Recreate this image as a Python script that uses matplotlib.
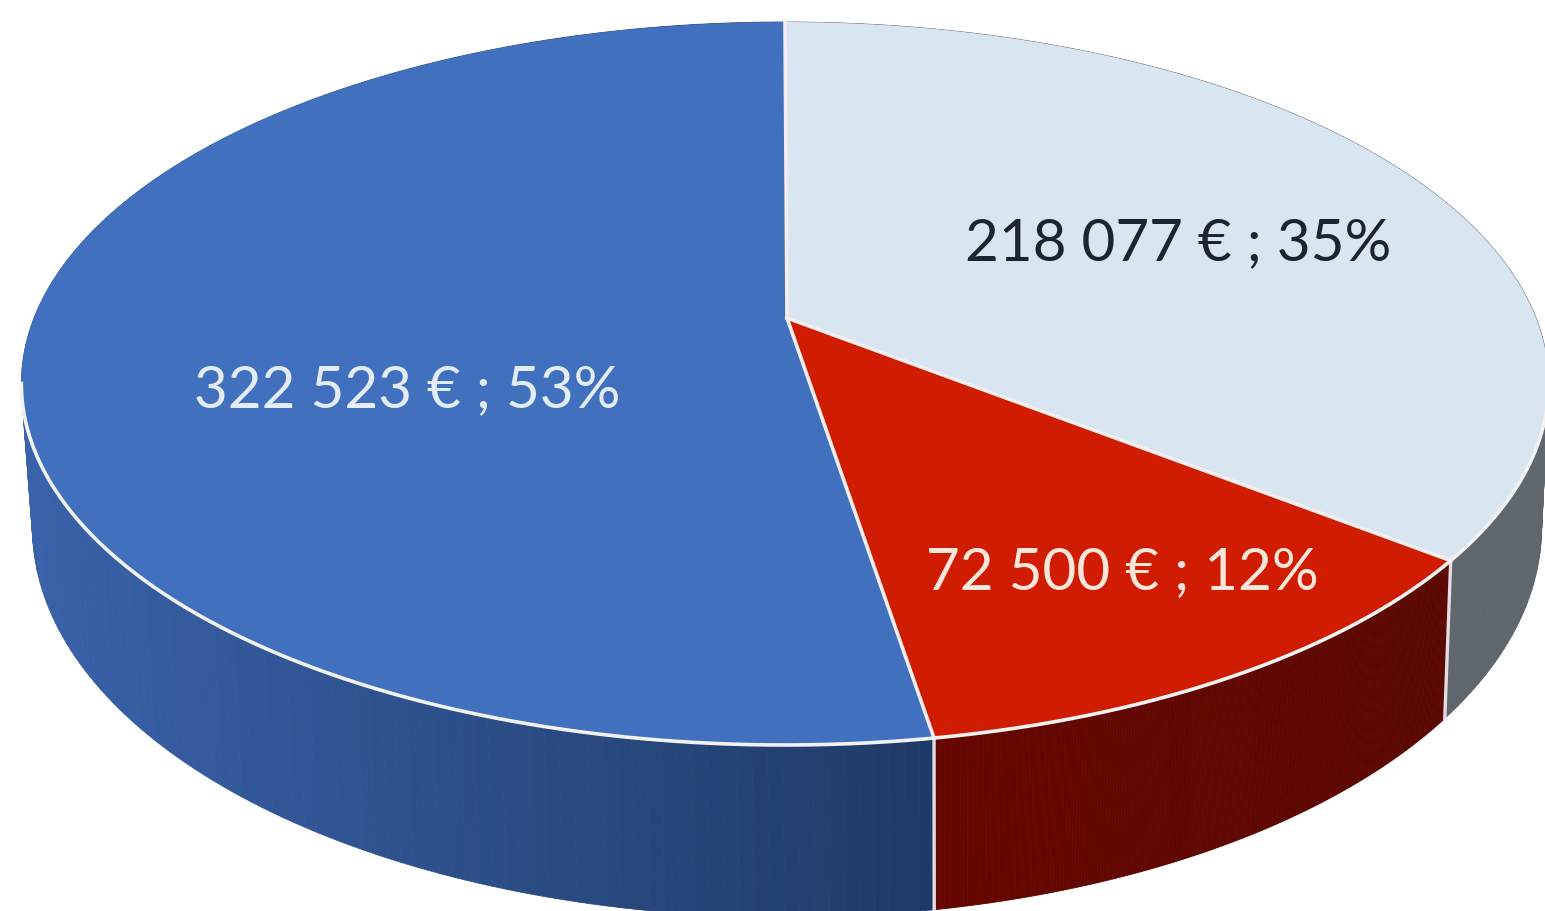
import matplotlib
matplotlib.use("Agg")
import matplotlib.pyplot as plt
import numpy as np

values = [218077, 72500, 322523]
labels = ["218 077 € ; 35%", "72 500 € ; 12%", "322 523 € ; 53%"]
top_colors = ["#dae5f2", "#d01c00", "#4170bf"]
# wall colours, (left of the slice, right of the slice)
wall_colors = [("#60676d", "#5f666c"), ("#660500", "#5a0800"), ("#3a62aa", "#1f3a66")]
text_colors = ["#1c2430", "#fbe6dc", "#e3ecf8"]
label_pos = [(1178, 244), (1122, 573), (407, 391)]

# perspective of the disc, all in image pixels
k = 0.1812


def rim(theta, cx, c, a, b):
    w = 1 + k * np.cos(theta)
    return cx + c * np.sin(theta) / w, (a * np.cos(theta) + b) / w


def top(theta):
    return rim(theta, 785, 751, -292, 318)


def bottom(theta):
    return rim(theta, 787, 742, -294, 457)


def hex_rgb(h):
    return np.array(matplotlib.colors.to_rgb(h))


fig = plt.figure(figsize=(15.45, 9.11), dpi=100)
ax = fig.add_axes([0, 0, 1, 1])
ax.set_xlim(0, 1545)
ax.set_ylim(911, 0)
ax.axis("off")

edges = np.concatenate([[0], np.cumsum(values)]) / sum(values) * 2 * np.pi

# side walls first, the top covers whatever is hidden
for i in range(len(values)):
    th = np.linspace(edges[i], edges[i + 1], 200)
    xt, yt = top(th)
    xb, yb = bottom(th)
    xmin, xmax = xt.min(), xt.max()
    c_left, c_right = hex_rgb(wall_colors[i][0]), hex_rgb(wall_colors[i][1])
    for j in range(len(th) - 1):
        f = (xt[j] - xmin) / (xmax - xmin)
        col = c_left + (c_right - c_left) * f
        ax.fill([xt[j], xt[j + 1], xb[j + 1], xb[j]], [yt[j], yt[j + 1], yb[j + 1], yb[j]],
                color=col, lw=0.6, zorder=1)

# seams between the walls
for e in edges[1:3]:
    xt, yt = top(e)
    xb, yb = bottom(e)
    ax.plot([xt, xb], [yt, yb], color="#e4dde4", lw=2.4, zorder=2)

# top of the pie
for i in range(len(values)):
    th = np.linspace(edges[i], edges[i + 1], 300)
    xt, yt = top(th)
    ax.fill(np.r_[787, xt], np.r_[318, yt], color=top_colors[i], lw=0, zorder=3)
    ax.plot([787, xt[0]], [318, yt[0]], color="#f4eeee", lw=2.6, zorder=4)

# light rim only along the front, where the wall shows
th = np.linspace(1.75, 4.53, 400)
xt, yt = top(th)
ax.plot(xt, yt, color="#f2f2f2", lw=2.6, zorder=4)

for i in range(len(values)):
    ax.text(label_pos[i][0], label_pos[i][1], labels[i], color=text_colors[i], fontsize=42,
            family="Lato", ha="center", va="center", zorder=5)

fig.savefig("out.png", dpi=100)
